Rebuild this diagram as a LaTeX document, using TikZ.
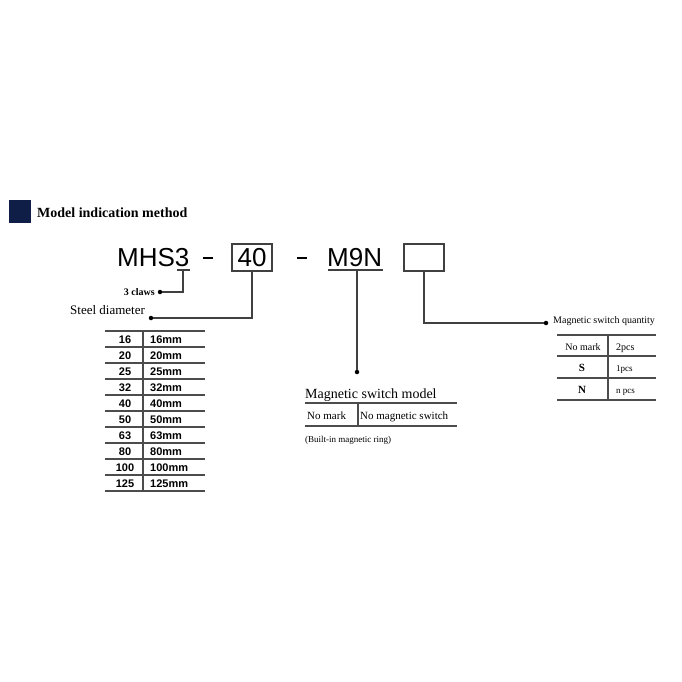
\documentclass[tikz,border=0pt]{standalone}
\usepackage{fontspec}
\setmainfont{Liberation Serif}
\newfontfamily\arialf{Liberation Sans}
\begin{document}
\begin{tikzpicture}[x=1pt,y=-1pt,
  rl/.style={line width=1.1pt,draw=black!75},
  tl/.style={line width=1.3pt,draw=black!70},
  dotc/.style={circle,fill=black,inner sep=0pt,minimum size=4.5pt},
  big/.style={font=\arialf\fontsize{26}{26}\selectfont,inner sep=0pt,anchor=base west},
  st/.style={font=\arialf\bfseries\fontsize{11}{11}\selectfont,inner sep=0pt,anchor=base}]
\useasboundingbox (0,0) rectangle (682,682);
\fill[fill={rgb,255:red,15;green,30;blue,70}] (9,200) rectangle (31,223);
\node[font=\bfseries\fontsize{14}{14}\selectfont,anchor=base west,inner sep=0pt] (title) at (37,217) {Model indication method};
\node[big] (mhs) at (117,266) {MHS3};
\node[big] (m9n) at (327,266) {M9N};
\draw[line width=1.6pt] (203,258) -- (213,258);
\draw[line width=1.6pt] (297,258) -- (307,258);
\node[draw,rl,text=black,minimum width=40pt,minimum height=27pt,inner sep=0pt,font=\arialf\fontsize{26}{26}\selectfont] (b40) at (252,257.5) {40};
\node[draw,rl,minimum width=40pt,minimum height=27pt] (bq) at (424,257.5) {};
% 3 claws
\draw[rl] (177,270) -- (190,270);
\node[font=\bfseries\fontsize{10}{10}\selectfont,anchor=base east,inner sep=0pt] (claws) at (155,295) {3 claws};
\node[dotc] (c1) at (160,292) {};
\draw[rl] (183,270) |- (c1);
% steel diameter
\node[font=\fontsize{13}{13}\selectfont,anchor=base west,inner sep=0pt] (sd) at (70,314) {Steel diameter};
\node[dotc] (c2) at (151,318) {};
\draw[rl] (b40.south) |- (c2);
% M9N
\draw[rl] (328,270) -- (383,270);
\node[dotc] (c3) at (357,372) {};
\draw[rl] (357,270) -- (c3);
% quantity
\node[dotc] (c4) at (546,323) {};
\draw[rl] (bq.south) |- (c4);
\node[font=\fontsize{10}{10}\selectfont,anchor=base west,inner sep=0pt] (qt) at (553,323) {Magnetic switch quantity};
\foreach \y in {335,356,378,400} \draw[tl] (557,\y) -- (656,\y);
\draw[tl] (608,335) -- (608,400);
\node[font=\fontsize{10}{10}\selectfont,anchor=base,inner sep=0pt] (q1a) at (583,350) {No mark};
\node[font=\fontsize{10}{10}\selectfont,anchor=base west,inner sep=0pt] (q1b) at (616,350) {2pcs};
\node[font=\bfseries\fontsize{11}{11}\selectfont,anchor=base,inner sep=0pt] (q2a) at (582,371) {S};
\node[font=\fontsize{9}{9}\selectfont,anchor=base west,inner sep=0pt] (q2b) at (616,371) {1pcs};
\node[font=\bfseries\fontsize{11}{11}\selectfont,anchor=base,inner sep=0pt] (q3a) at (582,393) {N};
\node[font=\fontsize{9}{9}\selectfont,anchor=base west,inner sep=0pt] (q3b) at (616,393) {n pcs};
% magnetic switch model
\node[font=\fontsize{14}{14}\selectfont,anchor=base west,inner sep=0pt] (msm) at (305,398) {Magnetic switch model};
\draw[tl] (305,403) -- (457,403);
\draw[tl] (305,426) -- (457,426);
\draw[tl] (358,403) -- (358,426);
\node[font=\fontsize{11}{11}\selectfont,anchor=base west,inner sep=0pt] (nm) at (307,419) {No mark};
\node[font=\fontsize{11}{11}\selectfont,anchor=base west,inner sep=0pt] (nms) at (360,419) {No magnetic switch};
\node[font=\fontsize{9}{9}\selectfont,anchor=base west,inner sep=0pt] (bi) at (305,442) {(Built-in magnetic ring)};
% steel table
\foreach \i in {0,...,10} \draw[tl] (105,331+16*\i) -- (205,331+16*\i);
\draw[tl] (143,331) -- (143,491);
\foreach \v [count=\i from 0] in {16,20,25,32,40,50,63,80,100,125} {
  \node[st] at (125,343.5+16*\i) {\v};
  \node[st,anchor=base west] at (150,343.5+16*\i) {\v mm};
}
\end{tikzpicture}
\end{document}
